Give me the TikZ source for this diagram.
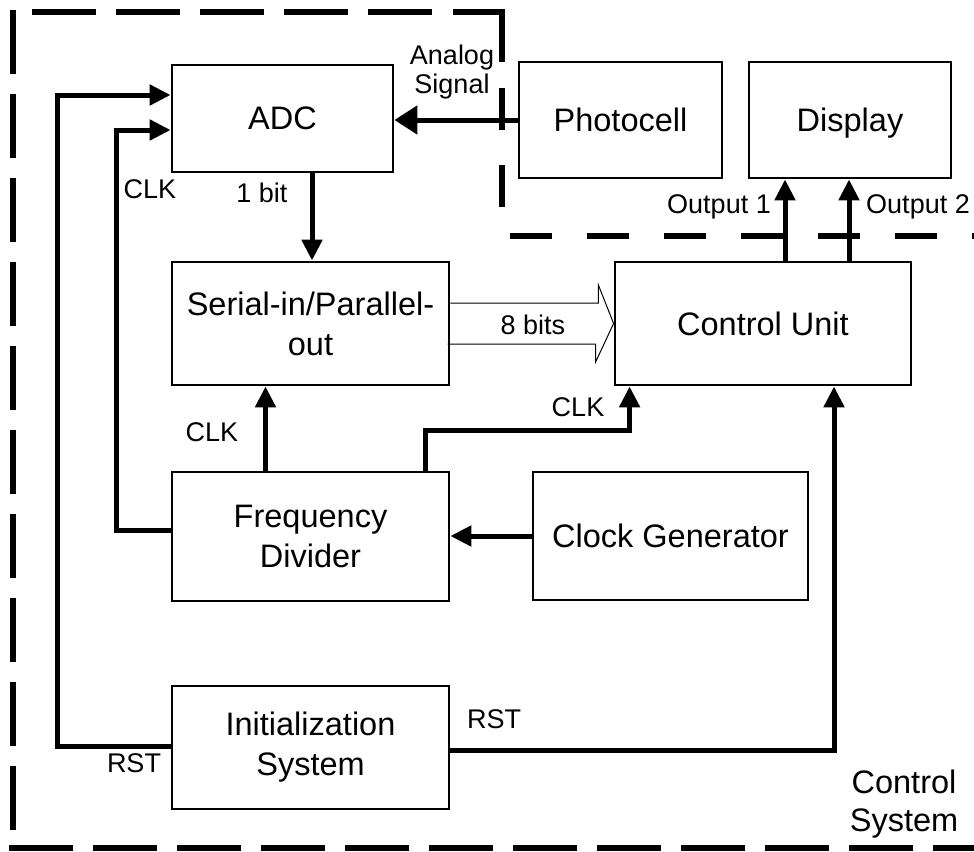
\documentclass[tikz,border=0pt]{standalone}
\usepackage{fontspec}
\setmainfont{Liberation Sans}
\usetikzlibrary{arrows.meta,calc}
\begin{document}
\begin{tikzpicture}[x=1pt,y=-1pt,
  blk/.style={draw,line width=2.8pt,align=center,inner sep=0pt,
    font=\fontsize{32.5}{40}\selectfont},
  lbl/.style={align=center,inner sep=0pt,font=\fontsize{27}{29}\selectfont},
  arr/.style={line width=5pt,-{Triangle[length=21pt,width=20pt]}},
  bigarr/.style={line width=5pt,-{Triangle[length=23pt,width=28pt]}},
  outerdash/.style={line width=6pt,dash pattern=on 64pt off 20pt},
  innerdash/.style={line width=6pt,dash pattern=on 42pt off 35pt},
]
\useasboundingbox (0,0) rectangle (974,851);
\fill[white] (0,0) rectangle (974,851);

% blocks
\node[blk,minimum width=221pt,minimum height=107pt] (adc) at (282.5,118.5) {ADC};
\node[blk,minimum width=203pt,minimum height=116pt] (photo) at (620.5,120) {Photocell};
\node[blk,minimum width=202pt,minimum height=116pt,text depth=0pt] (disp) at (850,120) {Display};
\node[blk,minimum width=277pt,minimum height=123pt] (sipo) at (310.5,323.5) {Serial-in/Parallel-\\out};
\node[blk,minimum width=296pt,minimum height=123pt] (cu) at (763,323.5) {Control Unit};
\node[blk,minimum width=277pt,minimum height=129pt] (fd) at (310.5,536.5) {Frequency\\Divider};
\node[blk,minimum width=275pt,minimum height=128pt] (cg) at (670.5,536) {Clock Generator};
\node[blk,minimum width=277pt,minimum height=123pt] (init) at (310.5,747.5) {Initialization\\System};

% boundary
\draw[outerdash] (13,10) -- (13,848);
\draw[outerdash] (9,848) -- (974,848);
\draw[outerdash] (32,12) -- (440,12);
\draw[line width=6pt] (453,12) -- (502,12) -- (502,62);
\draw[innerdash] (502,88) -- (502,215);
\draw[innerdash] (510,236) -- (974,236);

% connectors
\draw[bigarr] (photo.west) -- (photo.west -| adc.east);
\draw[arr] ([xshift=1.5pt]sipo.north |- adc.south) -- ([xshift=1.5pt]sipo.north);
\draw[arr] ([xshift=-45pt]fd.north) -- ([xshift=-45pt]sipo.south);
\draw[arr] ([xshift=115pt]fd.north) -- ++(0,-40) -| ([xshift=16pt]cu.south west);
\draw[arr] (cg.west) -- (cg.west -| fd.east);
\draw[arr] ([yshift=6.5pt]fd.west) -- ++(-54,0) |- ([yshift=-11.5pt]adc.west);
\draw[arr] ([yshift=1.5pt]init.west) -- ++(-113,0) |- ([yshift=23.5pt]adc.west);
\draw[arr] ([yshift=-2.5pt]init.east) -| ([xshift=71pt]cu.south);
\draw[arr] ([xshift=22pt]cu.north) -- ([xshift=22pt]cu.north |- disp.south);
\draw[arr] ([xshift=86pt]cu.north) -- ([xshift=86pt]cu.north |- disp.south);
\draw[line width=1pt,line join=miter] ([yshift=20.5pt]sipo.east) -- ++(148,0) -- ++(0,-18)
  -- (cu.west) -- ++(-18,38.5) -- ++(0,-18) -- ++(-148,0);

% labels
\node[lbl] (lanalog) at (452,72) {Analog\\Signal};
\node[lbl] (l1bit) at (262,193) {1 bit};
\node[lbl] (lclk1) at (150,189) {CLK};
\node[lbl] (lclk2) at (212,432) {CLK};
\node[lbl] (lclk3) at (578,407) {CLK};
\node[lbl] (l8bits) at (533,325) {8 bits};
\node[lbl] (lout1) at (719,207) {Output 1};
\node[lbl] (lout2) at (918,207) {Output 2};
\node[lbl] (lrst1) at (494,719) {RST};
\node[lbl] (lrst2) at (134,763) {RST};
\node[blk,draw=none,font=\fontsize{32.5}{38}\selectfont] (lcs) at (904,804) {Control\\System};
\end{tikzpicture}
\end{document}
